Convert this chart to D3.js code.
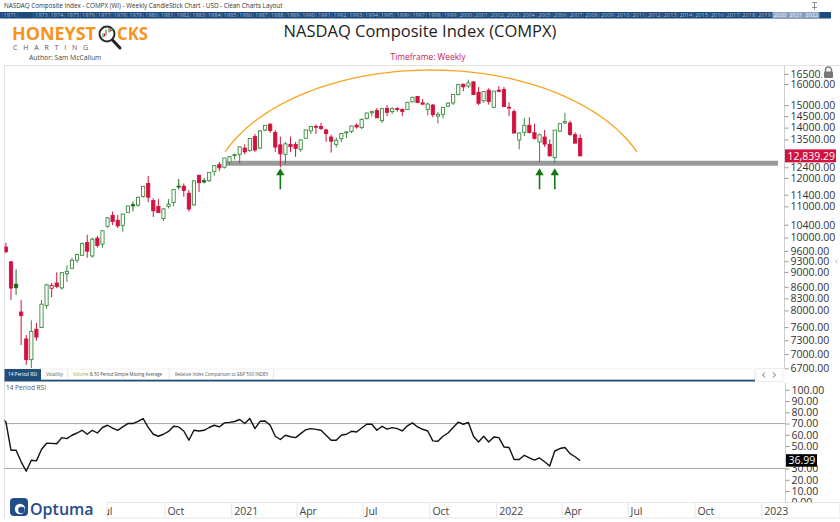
<!DOCTYPE html>
<html lang="en">
<head>
<meta charset="UTF-8"/>
<script src="https://d3js.org/d3.v7.min.js"></script>
<title>NASDAQ Composite Index (COMPX) - Weekly</title>
<style>
  body { margin: 0; background: #fff; }
  svg text { font-family: "Open Sans", "DejaVu Sans", sans-serif; }
</style>
</head>
<body>
<script type="text/javascript">
// weekly candles, week ending Friday, first week ends 14 Feb 2020
var firstWeek = "2020-02-14";

var opens = [9530, 9710, 9282, 8667, 7960, 7330, 6880, 7550, 7590, 8120,
  8560, 8700, 8570, 8950, 9100, 9330, 9470, 9850, 9450, 9980,
  9800, 10350, 10700, 10540, 10380, 10800, 11060, 11040, 11340, 11800,
  11200, 11000, 10600, 11000, 11130, 11700, 11700, 11450, 11050, 12100,
  11900, 11900, 12240, 12500, 12400, 12600, 12850, 12900, 13150, 13050,
  13620, 13150, 13900, 14150, 13790, 13280, 12900, 13300, 13300, 13100,
  13550, 13860, 14050, 14050, 13900, 13600, 13300, 13530, 13780, 13840,
  14100, 14000, 14400, 14650, 14750, 14300, 14850, 14700, 14840, 14800,
  14800, 15150, 15400, 15100, 14800, 15000, 14500, 14580, 14950, 15100,
  15500, 15990, 15900, 16100, 15600, 15200, 15700, 14900, 15700, 15730,
  14900, 14700, 13480, 13800, 14100, 13780, 13400, 13600, 13300, 12780,
  13850, 14200, 14200, 13700, 13540];
var highs = [9735, 9838, 9302, 9071, 8254, 7420, 7760, 7700, 8260, 8680,
  8700, 8990, 9000, 9180, 9400, 9520, 9850, 10086, 10000, 10050,
  10220, 10650, 10830, 10720, 10760, 11030, 11160, 11330, 11700, 12074,
  11280, 11250, 10950, 11250, 11600, 11965, 11800, 11570, 11920, 12110,
  12000, 12220, 12470, 12600, 12760, 12830, 12930, 13210, 13300, 13560,
  13730, 13900, 14100, 14175, 13900, 13620, 13400, 13620, 13400, 13500,
  13910, 14060, 14140, 14212, 13950, 13700, 13580, 13760, 13840, 14080,
  14180, 14400, 14650, 14750, 14870, 14840, 15000, 14900, 14900, 14850,
  15140, 15380, 15400, 15280, 15110, 15050, 14680, 14900, 15120, 15510,
  15990, 16020, 16212, 16150, 15850, 15650, 15790, 15660, 15900, 15850,
  15130, 14800, 13800, 14420, 14450, 14170, 13750, 13900, 13500, 13900,
  14200, 14646, 14300, 13800, 13710];
var lows = [9510, 9530, 8264, 8390, 7195, 6770, 6631, 7290, 7580, 8040,
  8330, 8560, 8520, 8730, 9080, 9250, 9460, 9400, 9403, 9700,
  9700, 10300, 10390, 10290, 10180, 10800, 10830, 10990, 11300, 11150,
  10650, 10790, 10520, 10930, 11000, 11580, 11330, 10822, 11020, 11500,
  11800, 11850, 12080, 12250, 12350, 12480, 12700, 12540, 12900, 13000,
  13000, 13100, 13840, 13780, 13000, 12397, 12500, 13000, 12800, 13000,
  13550, 13730, 13730, 13900, 13400, 12970, 13170, 13400, 13560, 13770,
  13950, 13940, 14350, 14480, 14420, 14200, 14500, 14600, 14700, 14500,
  14780, 15130, 15100, 15000, 14530, 14450, 14180, 14400, 14900, 15000,
  15450, 15650, 15800, 15480, 15000, 15100, 15020, 14860, 15600, 14900,
  14500, 13760, 13094, 13650, 13750, 13500, 12587, 13200, 12800, 12555,
  13800, 14150, 13650, 13340, 12830];
var closes = [9731, 9577, 8567, 8576, 7875, 6880, 7502, 7373, 8154, 8650,
  8635, 8605, 8980, 9015, 9325, 9490, 9814, 9589, 9946, 9757,
  10208, 10617, 10503, 10363, 10745, 11011, 11019, 11312, 11696, 11313,
  10854, 10793, 10914, 11075, 11580, 11672, 11548, 10912, 11895, 11829,
  11855, 12206, 12464, 12378, 12756, 12805, 12888, 13202, 12999, 13543,
  13071, 13856, 14095, 13874, 13192, 12920, 13320, 13215, 13139, 13480,
  13900, 14052, 14017, 13963, 13752, 13430, 13471, 13749, 13814, 14069,
  14030, 14360, 14639, 14702, 14427, 14837, 14673, 14836, 14823, 14715,
  15130, 15364, 15115, 15044, 15048, 14567, 14580, 14897, 15090, 15498,
  15972, 15861, 16057, 15492, 15085, 15631, 15170, 15653, 15645, 14936,
  14894, 13769, 13771, 14098, 13791, 13548, 13695, 13313, 12844, 13894,
  14169, 14262, 13711, 13351, 12839.29];

var rsiValues = [75.5, 71.4, 46.3, 46.3, 36, 27.6, 37.4, 36.8, 46.9, 52.5,
  52.4, 52.0, 57.5, 56.6, 59.6, 61.6, 64, 60.5, 64, 61.6,
  66.5, 68.5, 66, 64, 67, 70, 70, 72, 74.4, 66.6,
  60.5, 58.7, 60.5, 63, 67.6, 67, 63.4, 55.2, 64, 63.4,
  64, 66.5, 68.5, 67, 70.6, 71, 71.8, 73.6, 70, 74.4,
  65.5, 72, 72.3, 68.5, 58.7, 55.8, 59.6, 58.3, 57.5, 61,
  64.5, 65.5, 64.8, 64, 59.5, 55.2, 55.2, 59.6, 60.5, 63.1,
  62.5, 66, 69.4, 69.4, 64, 67.6, 65, 66.4, 65.5, 63.4,
  68, 70.6, 67, 64.9, 63.4, 54.6, 54.3, 58.7, 61.6, 66.5,
  71.2, 69.4, 70.9, 58.7, 53.6, 58.7, 53.6, 58.1, 57.5, 49.2,
  48.7, 38, 38, 41.8, 39.4, 37.4, 39.4, 36, 32.3, 45.6,
  47.8, 48.7, 43.3, 40.5, 36.99];

// 13000 and 40 sit under the last-value boxes in the original, so they are not listed
var priceTicks = [16500, 16000, 15000, 14500, 14000, 13500, 12400, 12000, 11400,
  11000, 10400, 10000, 9600, 9300, 9000, 8600, 8300, 8000, 7600, 7300, 7000, 6700];
var rsiTicks = [100, 90, 80, 70, 60, 50, 30, 20, 10, 0];
var rsiBands = [70, 30];

var quarterDates = ["2020-07-01", "2020-10-01", "2021-01-01", "2021-04-01", "2021-07-01",
  "2021-10-01", "2022-01-01", "2022-04-01", "2022-07-01", "2022-10-01", "2023-01-01"];
var quarterLabels = ["Jul", "Oct", "2021", "Apr", "Jul", "Oct", "2022", "Apr", "Jul", "Oct", "2023"];

var yearStart = 1971, yearEnd = 2022, hiddenYear = 1972;

// drawn annotations
var supportLevel = 12550, supportFrom = "2020-12-23";
var arrowWeeks = ["2021-03-05", "2022-02-25", "2022-03-18"], arrowLevel = 12360;
var arcFrom = "2020-12-23", arcTo = "2022-07-13", arcBase = 13000, arcTop = 16700;
var lastClose = 12839.29, lastRsi = 36.99;

var w = 840, h = 522;
var parseDay = d3.timeParse("%Y-%m-%d");
var green = "#3b8a3b", darkGreen = "#1b6b1b", red = "#d1123f";

// time scale: Jan 2021 and Jan 2022 boundaries
var xScale = d3.scaleTime()
  .domain([new Date(2021, 0, 1), new Date(2022, 0, 1)])
  .range([231.7, 496.7]);
var yPrice = d3.scaleLog().domain([16000, 7000]).range([84, 354]);
var yRsi = d3.scaleLinear().domain([0, 100]).range([502.3, 389.8]);

var first = parseDay(firstWeek);
var weekX = function(d) { return xScale(d3.timeDay.offset(d, 4)); };

var candles = closes.map(function(c, i) {
  return {
    date: d3.timeDay.offset(first, 7 * i),
    o: opens[i], h: highs[i], l: lows[i], c: c,
    prev: i > 0 ? closes[i - 1] : opens[i],
    rsi: rsiValues[i]
  };
});

var svg = d3.select("body").append("svg")
  .attr("width", w).attr("height", h)
  .style("display", "block");

svg.append("rect").attr("width", w).attr("height", h).attr("fill", "#fff");

var defs = svg.append("defs");
defs.append("clipPath").attr("id", "clipMain").append("rect")
  .attr("x", 4.5).attr("y", 66).attr("width", 779).attr("height", 302);
defs.append("clipPath").attr("id", "clipRsi").append("rect")
  .attr("x", 4.5).attr("y", 383).attr("width", 780).attr("height", 119);
defs.append("clipPath").attr("id", "clipAxis").append("rect")
  .attr("x", 107).attr("y", 500).attr("width", 733).attr("height", 20);

// ---- header ----
svg.append("text").attr("x", 4).attr("y", 7.5)
  .style("font-size", "6.3px").attr("fill", "#333")
  .text("NASDAQ Composite Index - COMPX (WI) - Weekly CandleStick Chart - USD - Clean Charts Layout");

// pin icon
svg.append("path").attr("d", "M812,2.5 h5 M814.5,2.5 v5 M812,7.5 h5 M814.5,7.5 v2")
  .attr("stroke", "#777").attr("stroke-width", 0.8).attr("fill", "none");

var years = d3.range(yearStart, yearEnd + 1);
var yearW = 15.72;
var yearBar = svg.append("g");
yearBar.append("rect").attr("x", 0).attr("y", 12).attr("width", 831).attr("height", 6.5)
  .attr("fill", "#1d4a7a");
yearBar.append("rect").attr("x", 2 + yearW * (2020 - yearStart)).attr("y", 12)
  .attr("width", yearW * 3).attr("height", 6.5).attr("fill", "#8ea4c4");
yearBar.selectAll("line").data(years).enter().append("line")
  .attr("x1", function(d, i) { return 2 + yearW * i; })
  .attr("x2", function(d, i) { return 2 + yearW * i; })
  .attr("y1", 12.5).attr("y2", 18)
  .attr("stroke", "#5f7ea6").attr("stroke-width", 0.5);
yearBar.selectAll("text").data(years.filter(function(d) { return d !== hiddenYear; }))
  .enter().append("text")
  .attr("x", function(d) { return 3.5 + yearW * (d - yearStart); })
  .attr("y", 17.3)
  .style("font-size", "5.6px")
  .attr("fill", function(d) { return d >= 2020 ? "#e8eef6" : "#a9bdd8"; })
  .text(function(d) { return d; });

// logo
var logo = svg.append("g");
logo.append("text").attr("x", 12).attr("y", 40)
  .style("font-size", "17px").style("font-weight", 700)
  .attr("textLength", 84).attr("lengthAdjust", "spacingAndGlyphs")
  .attr("fill", "#f7941d").text("HONEYST");
logo.append("text").attr("x", 117).attr("y", 40)
  .style("font-size", "17px").style("font-weight", 700)
  .attr("textLength", 31).attr("lengthAdjust", "spacingAndGlyphs")
  .attr("fill", "#f7941d").text("CKS");
logo.append("line").attr("x1", 112).attr("y1", 39.5).attr("x2", 120).attr("y2", 48)
  .attr("stroke", "#222").attr("stroke-width", 3).attr("stroke-linecap", "round");
logo.append("circle").attr("cx", 107).attr("cy", 34).attr("r", 7.5)
  .attr("fill", "#fff").attr("stroke", "#2a2a2a").attr("stroke-width", 2);
logo.append("path").attr("d", "M103,37.5 v-4 M106,35.5 v-6 M109,32.5 v-5 M112,31 v-3")
  .attr("stroke", "#3a9a3a").attr("stroke-width", 1.2);
logo.append("path").attr("d", "M104.5,36.5 v-3 M110.5,31.5 v-2")
  .attr("stroke", "#d1123f").attr("stroke-width", 1.2);
logo.append("text").attr("x", 13).attr("y", 50)
  .style("font-size", "7px").style("letter-spacing", "5.8px")
  .attr("fill", "#555").text("CHARTING");
svg.append("text").attr("x", 29).attr("y", 60)
  .style("font-size", "6.8px").attr("fill", "#444").text("Author: Sam McCallum");

svg.append("text").attr("x", 420).attr("y", 37).attr("text-anchor", "middle")
  .style("font-size", "16.5px").attr("fill", "#222")
  .text("NASDAQ Composite Index (COMPX)");
svg.append("text").attr("x", 428).attr("y", 60).attr("text-anchor", "middle")
  .style("font-size", "8.4px").attr("fill", "#c8174f").text("Timeframe: Weekly");

// frame
svg.append("line").attr("x1", 4).attr("x2", 840).attr("y1", 65.5).attr("y2", 65.5)
  .attr("stroke", "#e2e2e2");
svg.append("line").attr("x1", 4.5).attr("x2", 4.5).attr("y1", 65.5).attr("y2", 518)
  .attr("stroke", "#e2e2e2");

// ---- price panel ----
var main = svg.append("g").attr("clip-path", "url(#clipMain)");

// support line
main.append("line")
  .attr("x1", xScale(parseDay(supportFrom))).attr("x2", 778)
  .attr("y1", yPrice(supportLevel)).attr("y2", yPrice(supportLevel))
  .attr("stroke", "#9a9a9a").attr("stroke-width", 5);

// arc
var ax0 = xScale(parseDay(arcFrom)), ax1 = xScale(parseDay(arcTo));
var ayb = yPrice(arcBase), ayt = yPrice(arcTop);
var ry = (ayb - ayt) * 1.6, cy = ayt + ry, cx = (ax0 + ax1) / 2;
var s0 = (cy - ayb) / ry;
var rx = (ax1 - ax0) / 2 / Math.sqrt(1 - s0 * s0);
var t0 = Math.asin(s0);
var arcPts = d3.range(0, 81).map(function(k) {
  var t = t0 + (Math.PI - 2 * t0) * k / 80;
  return [cx - rx * Math.cos(t), cy - ry * Math.sin(t)];
});
main.append("path").attr("d", d3.line()(arcPts))
  .attr("fill", "none").attr("stroke", "#f5a623").attr("stroke-width", 1.3);

// candles: hollow when close > open, colour from close vs previous close
var candleColor = function(d) {
  var up = d.c >= d.prev;
  if (d.c < d.o) { return up ? darkGreen : red; }
  return up ? green : red;
};
var cg = main.selectAll("g.candle").data(candles).enter().append("g").attr("class", "candle");
cg.append("line")
  .attr("x1", function(d) { return weekX(d.date); })
  .attr("x2", function(d) { return weekX(d.date); })
  .attr("y1", function(d) { return yPrice(d.h); })
  .attr("y2", function(d) { return yPrice(d.l); })
  .attr("stroke", candleColor).attr("stroke-width", 1);
cg.append("rect")
  .attr("x", function(d) { return weekX(d.date) - 1.6; })
  .attr("width", 3.2)
  .attr("y", function(d) { return yPrice(Math.max(d.o, d.c)); })
  .attr("height", function(d) {
    return Math.max(0.8, Math.abs(yPrice(d.o) - yPrice(d.c)));
  })
  .attr("fill", function(d) { return d.c < d.o ? candleColor(d) : "#fff"; })
  .attr("stroke", candleColor).attr("stroke-width", 0.9);

// arrows
arrowWeeks.forEach(function(s) {
  var x = weekX(parseDay(s)), y = yPrice(arrowLevel);
  main.append("line").attr("x1", x).attr("x2", x).attr("y1", y + 5).attr("y2", y + 21)
    .attr("stroke", "#137a13").attr("stroke-width", 1.6);
  main.append("path")
    .attr("d", "M" + x + "," + y + " L" + (x + 4.2) + "," + (y + 7) + " L" + (x - 4.2) + "," + (y + 7) + "Z")
    .attr("fill", "#137a13");
});

// price axis
var priceAxis = d3.axisRight(yPrice).tickValues(priceTicks)
  .tickFormat(d3.format(".2f")).tickSize(4).tickPadding(2);
var pa = svg.append("g").attr("transform", "translate(784.5,0)").call(priceAxis);
pa.select(".domain").attr("stroke", "#cfcfcf").attr("d", "M0,66V368");
pa.selectAll(".tick line").attr("stroke", "#999");
pa.selectAll(".tick text").style("font-size", "10.5px").attr("fill", "#333")
  .style("font-family", "\"Open Sans\", sans-serif");
// the top label is cut short by the lock button
pa.selectAll(".tick text").filter(function(d) { return d === 16500; }).text("16500.(");

// last price label
svg.append("rect").attr("x", 785).attr("y", yPrice(lastClose) - 6.5)
  .attr("width", 51).attr("height", 13).attr("fill", red);
svg.append("text").attr("x", 787.5).attr("y", yPrice(lastClose) + 3.8)
  .style("font-size", "10.5px").attr("fill", "#fff").text(d3.format(",.2f")(lastClose));

// lock icon
svg.append("rect").attr("x", 822).attr("y", 66).attr("width", 16).attr("height", 13)
  .attr("fill", "#fff");
svg.append("path").attr("d", "M825.5,72 v-2 a3,3 0 0 1 6,0 v2")
  .attr("fill", "none").attr("stroke", "#777").attr("stroke-width", 1.4);
svg.append("rect").attr("x", 824).attr("y", 71.5).attr("width", 9).attr("height", 6.5)
  .attr("rx", 1).attr("fill", "#777");
svg.append("path").attr("d", "M837.5,259.5 l-2,2 l2,2")
  .attr("fill", "none").attr("stroke", "#aaa").attr("stroke-width", 0.8);

// ---- tab bar ----
var tabs = svg.append("g");
tabs.append("rect").attr("x", 4.5).attr("y", 369).attr("width", 750).attr("height", 10.5)
  .attr("fill", "#fff").attr("stroke", "#e4e4e4").attr("stroke-width", 0.6);
tabs.append("rect").attr("x", 4.5).attr("y", 369).attr("width", 36.5).attr("height", 11)
  .attr("fill", "#1f4e79");
tabs.append("text").attr("x", 8).attr("y", 376.3).style("font-size", "5px")
  .attr("textLength", 29).attr("lengthAdjust", "spacingAndGlyphs")
  .attr("fill", "#fff").text("14 Period RSI");
tabs.append("text").attr("x", 46).attr("y", 376.3).style("font-size", "5px")
  .attr("textLength", 17).attr("lengthAdjust", "spacingAndGlyphs")
  .attr("fill", "#555").text("Volatility");
var volText = tabs.append("text").attr("x", 73).attr("y", 376.3).style("font-size", "5px")
  .attr("textLength", 89).attr("lengthAdjust", "spacingAndGlyphs");
volText.append("tspan").attr("fill", "#9aa43a").text("Volume");
volText.append("tspan").attr("fill", "#444").text(" & 50 Period Simple Moving Average");
tabs.append("text").attr("x", 175).attr("y", 376.3).style("font-size", "5px")
  .attr("textLength", 93).attr("lengthAdjust", "spacingAndGlyphs")
  .attr("fill", "#555").text("Relative Index Comparison to S&P 500 INDEX");
[67.7, 169.3, 273.3].forEach(function(x) {
  tabs.append("line").attr("x1", x).attr("x2", x).attr("y1", 369.5).attr("y2", 379.5)
    .attr("stroke", "#d6d6d6").attr("stroke-width", 0.6);
});
tabs.append("line").attr("x1", 4.5).attr("x2", 755).attr("y1", 380.6).attr("y2", 380.6)
  .attr("stroke", "#1f4e79").attr("stroke-width", 1.8);
tabs.append("rect").attr("x", 756).attr("y", 368.5).attr("width", 27).attr("height", 13)
  .attr("fill", "#fff").attr("stroke", "#e0e0e0").attr("stroke-width", 0.6);
tabs.append("path").attr("d", "M765,372.5 l-2.5,2.5 l2.5,2.5 M773,372.5 l2.5,2.5 l-2.5,2.5")
  .attr("fill", "none").attr("stroke", "#666").attr("stroke-width", 1);

// ---- RSI panel ----
svg.append("text").attr("x", 6).attr("y", 390).style("font-size", "6.5px")
  .attr("fill", "#555").text("14 Period RSI");

svg.selectAll("line.band").data(rsiBands).enter().append("line").attr("class", "band")
  .attr("x1", 4.5).attr("x2", 785)
  .attr("y1", function(d) { return yRsi(d); })
  .attr("y2", function(d) { return yRsi(d); })
  .attr("stroke", "#a8a8a8").attr("stroke-width", 1);

var rsiLine = d3.line()
  .x(function(d) { return weekX(d.date); })
  .y(function(d) { return yRsi(d.rsi); });
svg.append("g").attr("clip-path", "url(#clipRsi)").append("path")
  .datum(candles).attr("d", rsiLine)
  .attr("fill", "none").attr("stroke", "#111").attr("stroke-width", 1.4)
  .attr("stroke-linejoin", "round");

var rsiAxis = d3.axisRight(yRsi).tickValues(rsiTicks)
  .tickFormat(d3.format(".2f")).tickSize(4).tickPadding(2);
var ra = svg.append("g").attr("transform", "translate(785.5,0)").call(rsiAxis);
ra.select(".domain").attr("stroke", "#cfcfcf").attr("d", "M0,383V502");
ra.selectAll(".tick line").attr("stroke", "#999");
ra.selectAll(".tick text").style("font-size", "10.5px").attr("fill", "#333")
  .style("font-family", "\"Open Sans\", sans-serif");

svg.append("rect").attr("x", 786).attr("y", yRsi(lastRsi) - 6.5)
  .attr("width", 31).attr("height", 12.5).attr("fill", "#000");
svg.append("text").attr("x", 788.5).attr("y", yRsi(lastRsi) + 3.8)
  .style("font-size", "10.5px").attr("fill", "#fff").text(d3.format(".2f")(lastRsi));

// ---- time axis ----
var xa = svg.append("g");
xa.append("rect").attr("x", 107).attr("y", 502.5).attr("width", 733).attr("height", 15.5)
  .attr("fill", "#fff").attr("stroke", "#e0e0e0").attr("stroke-width", 0.8);
var xq = xa.append("g").attr("clip-path", "url(#clipAxis)");
var qd = quarterDates.map(parseDay);
xq.selectAll("line").data(qd).enter().append("line")
  .attr("x1", function(d) { return xScale(d); })
  .attr("x2", function(d) { return xScale(d); })
  .attr("y1", 502.5).attr("y2", 518)
  .attr("stroke", "#e0e0e0").attr("stroke-width", 0.8);
xq.selectAll("text").data(qd).enter().append("text")
  .attr("x", function(d) { return xScale(d) + 2.5; })
  .attr("y", 514.5)
  .style("font-size", "10.5px").attr("fill", "#444")
  .text(function(d, i) { return quarterLabels[i]; });

// Optuma logo
var op = svg.append("g");
op.append("rect").attr("x", 10).attr("y", 498).attr("width", 18).attr("height", 18)
  .attr("rx", 4).attr("fill", "#1f4e8a");
op.append("circle").attr("cx", 20).attr("cy", 509).attr("r", 5.2).attr("fill", "#fff");
op.append("circle").attr("cx", 21.5).attr("cy", 510).attr("r", 3.3).attr("fill", "#1f4e8a");
op.append("text").attr("x", 30).attr("y", 514.5)
  .style("font-size", "16px").style("font-weight", 600)
  .attr("fill", "#1f4e8a").text("Optuma");
</script>
</body>
</html>
